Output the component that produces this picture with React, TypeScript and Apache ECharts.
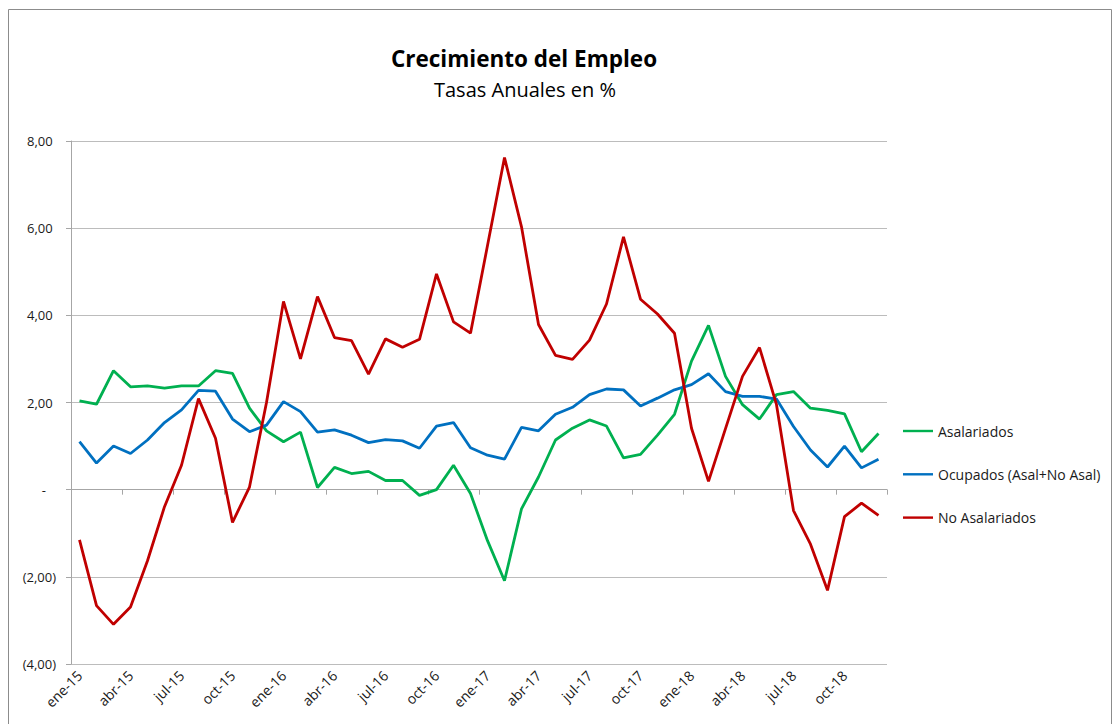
import React, { useEffect, useRef } from "react";
import * as echarts from "echarts";

const monthNames = ["ene", "feb", "mar", "abr", "may", "jun", "jul", "ago", "sep", "oct", "nov", "dic"];
const years = ["15", "16", "17", "18"];
const categories: string[] = [];
years.forEach((y) => monthNames.forEach((m) => categories.push(`${m}-${y}`)));

const asalariados = [
  2.04, 1.96, 2.73, 2.36, 2.38, 2.33, 2.38, 2.38, 2.73, 2.67,
  1.87, 1.35, 1.10, 1.32, 0.05, 0.51, 0.37, 0.42, 0.21, 0.21,
  -0.13, 0.00, 0.56, -0.09, -1.17, -2.09, -0.44, 0.29, 1.14, 1.41,
  1.60, 1.46, 0.73, 0.81, 1.25, 1.73, 2.95, 3.77, 2.60, 1.95,
  1.62, 2.18, 2.25, 1.87, 1.82, 1.74, 0.87, 1.29,
];

const ocupados = [
  1.10, 0.61, 1.00, 0.83, 1.14, 1.54, 1.83, 2.28, 2.26, 1.62,
  1.33, 1.48, 2.02, 1.79, 1.32, 1.37, 1.25, 1.08, 1.15, 1.12,
  0.95, 1.46, 1.54, 0.96, 0.79, 0.70, 1.43, 1.35, 1.73, 1.89,
  2.18, 2.31, 2.29, 1.92, 2.10, 2.29, 2.41, 2.66, 2.25, 2.14,
  2.14, 2.08, 1.45, 0.91, 0.52, 1.00, 0.50, 0.70,
];

const noAsalariados = [
  -1.15, -2.66, -3.09, -2.69, -1.63, -0.39, 0.56, 2.09, 1.18, -0.75,
  0.06, 2.00, 4.32, 3.00, 4.43, 3.49, 3.42, 2.65, 3.46, 3.27,
  3.45, 4.95, 3.85, 3.59, 5.60, 7.62, 6.03, 3.79, 3.08, 2.99,
  3.43, 4.26, 5.80, 4.37, 4.03, 3.59, 1.41, 0.19, 1.40, 2.60,
  3.26, 1.95, -0.48, -1.25, -2.31, -0.62, -0.31, -0.59,
];

const seriesNames = ["Asalariados", "Ocupados (Asal+No Asal)", "No Asalariados"];
const seriesColors = ["#00B050", "#0070C0", "#C00000"];
const titleText = "Crecimiento del Empleo";
const subtitleText = "Tasas Anuales en %";

const FONT = "'Open Sans', 'Noto Sans', sans-serif";
const NB = "\u00a0";

function fmtY(v: number): string {
  if (Math.abs(v) < 1e-9) return "-" + NB + NB + NB;
  const s = Math.abs(v).toFixed(2).replace(".", ",");
  return v < 0 ? `(${s})` : s + NB;
}

export default function App() {
  const ref = useRef<HTMLDivElement>(null);
  useEffect(() => {
    if (!ref.current) return;
    const chart = echarts.init(ref.current, undefined, { renderer: "svg" });
    const data = [asalariados, ocupados, noAsalariados];
    chart.setOption({
      animation: false,
      backgroundColor: "#ffffff",
      textStyle: { fontFamily: FONT },
      grid: { left: 71, right: 226, top: 141, bottom: 60, containLabel: false },
      legend: {
        orient: "vertical",
        left: 898,
        top: 419,
        itemWidth: 30,
        itemHeight: 14,
        itemGap: 29.3,
        icon: "path://M0,6 L30,6 L30,8.4 L0,8.4 Z",
        textStyle: { fontSize: 14, color: "#1a1a1a", fontFamily: FONT },
        data: seriesNames,
      },
      xAxis: [
        {
          type: "category",
          data: categories,
          boundaryGap: true,
          position: "bottom",
          axisLine: { show: false, onZero: false },
          axisTick: { show: false },
          axisLabel: {
            interval: 2,
            rotate: 45,
            margin: 9,
            fontSize: 14,
            color: "#1a1a1a",
            fontFamily: FONT,
          },
          splitLine: { show: false },
        },
        {
          type: "category",
          data: categories,
          boundaryGap: true,
          position: "bottom",
          axisLine: { show: true, onZero: true, lineStyle: { color: "#a6a6a6", width: 1 } },
          axisTick: { show: true, interval: 2, length: 5, lineStyle: { color: "#a6a6a6" } },
          axisLabel: { show: false },
          splitLine: { show: false },
        },
      ],
      yAxis: {
        type: "value",
        min: -4,
        max: 8,
        interval: 2,
        axisLine: { show: true, lineStyle: { color: "#a6a6a6", width: 1 } },
        axisTick: { show: true, length: 5, lineStyle: { color: "#a6a6a6" } },
        axisLabel: {
          formatter: fmtY,
          margin: 15,
          fontSize: 13,
          color: "#1a1a1a",
          fontFamily: FONT,
        },
        splitLine: { show: true, lineStyle: { color: "#bcbcbc", width: 1 } },
      },
      series: seriesNames.map((name, i) => ({
        name,
        type: "line",
        data: data[i],
        xAxisIndex: 0,
        symbol: "none",
        lineStyle: { color: seriesColors[i], width: 2.8 },
        itemStyle: { color: seriesColors[i] },
        z: 3 + i,
      })),
      graphic: [
        {
          type: "rect",
          shape: { x: 8.5, y: 9.5, width: 1103, height: 740 },
          style: { fill: "none", stroke: "#8c8c8c", lineWidth: 1 },
          silent: true,
        },
        {
          type: "text",
          x: 524,
          y: 58,
          style: {
            text: titleText,
            fontSize: 22.5,
            fontWeight: "bold",
            fontFamily: FONT,
            fill: "#000",
            textAlign: "center",
            textVerticalAlign: "middle",
          },
        },
        {
          type: "text",
          x: 525,
          y: 89,
          style: {
            text: subtitleText,
            fontSize: 20,
            fontFamily: FONT,
            fill: "#000",
            textAlign: "center",
            textVerticalAlign: "middle",
          },
        },
      ],
    });
    return () => chart.dispose();
  }, []);
  return (
    <div
      ref={ref}
      style={{ position: "absolute", left: 0, top: 0, width: 1113, height: 724 }}
    />
  );
}
